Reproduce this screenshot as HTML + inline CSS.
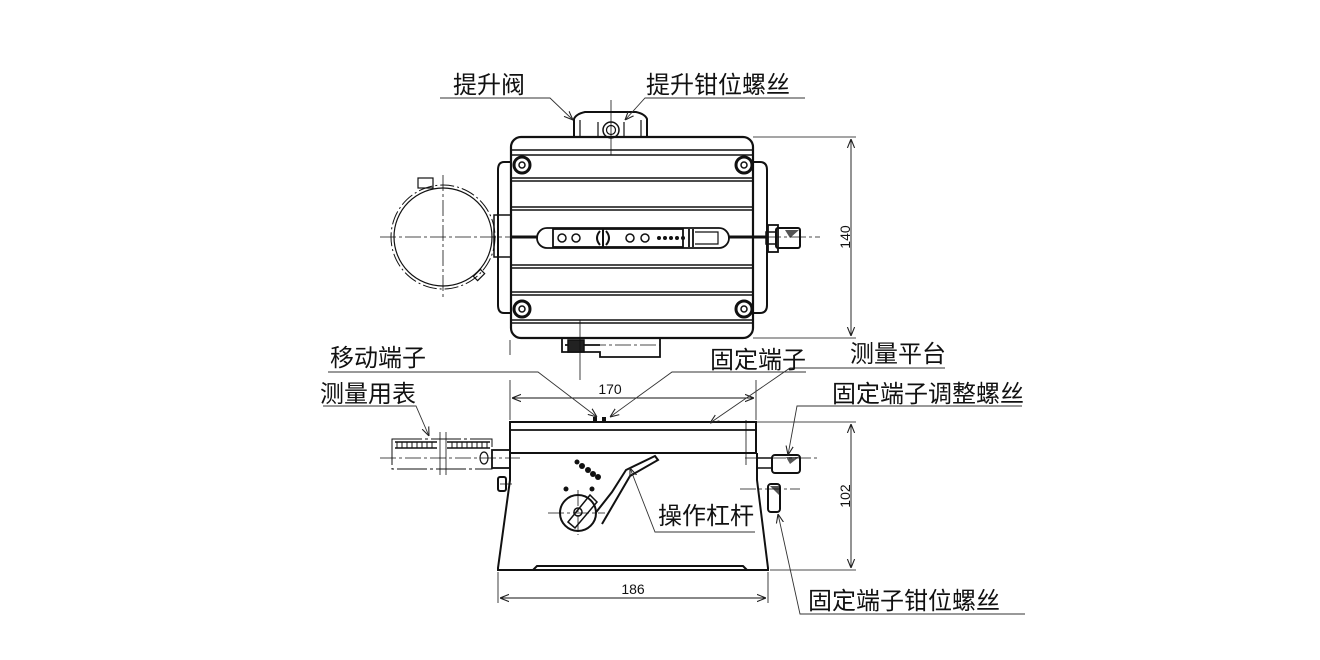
<!DOCTYPE html>
<html><head><meta charset="utf-8"><style>
html,body{margin:0;padding:0;background:#fff;}
svg{display:block;}
text{font-family:"Liberation Sans","Noto Sans CJK SC",sans-serif;fill:#111;}
.t{font-size:24px;}
.d{font-size:14px;}
</style></head><body>
<svg width="1320" height="660" viewBox="0 0 1320 660" xmlns="http://www.w3.org/2000/svg">
<defs>
<marker id="a" viewBox="0 0 10 10" refX="10" refY="5" markerWidth="9" markerHeight="9" orient="auto-start-reverse" markerUnits="userSpaceOnUse"><path d="M0,1 L10,5 L0,9" fill="none" stroke="#222" stroke-width="1.2"/></marker>
</defs>
<g fill="none" stroke="#111">
<path d="M574,137 V119 Q576,114 585,112 H636 Q645,114 647,119 V137" stroke-width="2"/>
<path d="M580,137 V120 M641,137 V120 M598,137 V122 M624,137 V122" stroke-width="1.2"/>
<circle cx="611" cy="130" r="8" stroke-width="1.5"/><circle cx="611" cy="130" r="4.5" stroke-width="1.2"/>
<path d="M511,162 H504 Q498,162 498,170 V305 Q498,313 504,313 H511" stroke-width="2"/>
<path d="M753,162 H760 Q767,162 767,170 V305 Q767,313 760,313 H753" stroke-width="2"/>
<rect x="494" y="215" width="17" height="42" stroke-width="1.5"/>
<rect x="511" y="137" width="242" height="201" rx="10" stroke-width="2.2"/>
<path d="M512,150 H752 M512,155 H752 M512,178 H752 M512,181 H752 M512,207 H752 M512,210 H752 M512,265 H752 M512,268 H752 M512,292 H752 M512,295 H752 M512,320 H752 M512,323 H752" stroke-width="1.5"/>
<g stroke-width="1.5">
<circle cx="522" cy="165" r="8" stroke-width="3"/><circle cx="522" cy="165" r="3"/>
<circle cx="744" cy="165" r="8" stroke-width="3"/><circle cx="744" cy="165" r="3"/>
<circle cx="522" cy="309" r="8" stroke-width="3"/><circle cx="522" cy="309" r="3"/>
<circle cx="744" cy="309" r="8" stroke-width="3"/><circle cx="744" cy="309" r="3"/>
</g>
<path d="M512,237 H538 M728,237 H766" stroke-width="3"/>
<rect x="537" y="228" width="192" height="20" rx="10" stroke-width="1.8"/>
<rect x="553" y="229" width="130" height="18" stroke-width="1.8"/>
<path d="M689,229 V247 M693,229 V247" stroke-width="1.8"/>
<circle cx="562" cy="238" r="4" stroke-width="1.5"/><circle cx="576" cy="238" r="4" stroke-width="1.5"/>
<circle cx="630" cy="238" r="4" stroke-width="1.5"/><circle cx="645" cy="238" r="4" stroke-width="1.5"/>
<path d="M600,231 Q594,238 600,245 M606,231 Q612,238 606,245 M603,229 V247" stroke-width="2"/>
<g fill="#111" stroke="none"><circle cx="659" cy="238" r="2"/><circle cx="665" cy="238" r="2"/><circle cx="671" cy="238" r="2"/><circle cx="677" cy="238" r="2"/><circle cx="683" cy="238" r="2"/></g>
<path d="M695,232 H718 V244 H695" stroke-width="1.2"/>
<rect x="766" y="232" width="10" height="12" stroke-width="1.5"/>
<rect x="768" y="225" width="10" height="27" stroke-width="1.8"/>
<rect x="776" y="228" width="24" height="20" rx="2" stroke-width="2"/>
<path d="M785,230 L799,230 L790,238 Z" fill="#555" stroke="none"/>
<circle cx="443" cy="237" r="52" stroke-width="1" stroke-dasharray="14 3 2 3"/>
<circle cx="443" cy="237" r="49" stroke-width="1.2"/>
<rect x="418" y="178" width="15" height="10" stroke-width="1.2"/>
<rect x="476" y="270" width="6" height="10" transform="rotate(45 479 275)" stroke-width="1.2"/>
<path d="M562,338 V352 H600 V357 H660 V338 M565,345 H600" stroke-width="1.8"/>
<rect x="568" y="340" width="16" height="12" stroke-width="1.5" fill="#222"/>
<g stroke-width="0.8" stroke-dasharray="16 3 3 3">
<path d="M380,237 H525 M740,237 H820"/>
<path d="M443,175 V300"/>
<path d="M590,345 H660"/>
</g>
<path d="M611,100 V155 M580,320 V380 M510,340 V355" stroke-width="0.8"/>
<path d="M753,137 H856 M753,338 H856" stroke-width="0.8"/>
<path d="M851,139 V336" stroke-width="0.9" marker-start="url(#a)" marker-end="url(#a)"/>

<rect x="510" y="422" width="246" height="31" stroke-width="2"/>
<path d="M511,430 H755" stroke-width="1.8"/>
<path d="M510,453 V480 L498,568 V570 H768 V568 L757,480 V453" stroke-width="2" fill="none"/>
<path d="M500,570 H533 L537,566 H743 L747,570" stroke-width="2"/>
<rect x="593" y="417" width="4" height="5" fill="#111" stroke="none"/><rect x="602" y="417" width="4" height="5" fill="#111" stroke="none"/>
<rect x="392" y="439" width="100" height="30" stroke-width="1" stroke-dasharray="30 3 3 3"/>
<path d="M395,442 H437 M447,442 H490 M395,448 H437 M447,448 H490" stroke-width="1.5"/>
<path d="M397,442 V448 M402,442 V448 M407,442 V448 M412,442 V448 M417,442 V448 M422,442 V448 M427,442 V448 M432,442 V448 M452,442 V448 M457,442 V448 M462,442 V448 M467,442 V448 M472,442 V448 M477,442 V448 M482,442 V448 M487,442 V448" stroke-width="1"/>
<ellipse cx="484" cy="458" rx="4" ry="6" stroke-width="1.2"/>
<rect x="492" y="450" width="18" height="18" stroke-width="1.8"/>
<rect x="498" y="477" width="8" height="14" rx="2" stroke-width="2"/>
<rect x="757" y="458" width="15" height="10" stroke-width="1.5"/>
<rect x="772" y="455" width="28" height="18" rx="3" stroke-width="2"/>
<path d="M786,457 L799,457 L790,464 Z" fill="#555" stroke="none"/>
<rect x="768" y="484" width="12" height="28" rx="3" stroke-width="2"/>
<path d="M770,486 L779,486 L779,495 Z" fill="#555" stroke="none"/>
<path d="M590,520 L612,492 L626,470 L655,456 L658,460 L630,476 L602,524" stroke-width="2" fill="#fff"/>
<circle cx="578" cy="513" r="18" stroke-width="2" fill="#fff"/>
<path d="M568,522 L590,495 L597,502 L575,528 Z" stroke-width="1.5"/>
<circle cx="578" cy="512" r="4" stroke-width="1.5"/>
<g fill="#111" stroke="none"><circle cx="577" cy="462" r="2.5"/><circle cx="582" cy="466" r="3"/><circle cx="588" cy="470" r="3"/><circle cx="593" cy="474" r="3"/><circle cx="598" cy="477" r="3"/><circle cx="566" cy="489" r="2.5"/><circle cx="592" cy="489" r="2.5"/></g>
<g stroke-width="0.8" stroke-dasharray="16 3 3 3">
<path d="M380,458 H520 M745,458 H820 M740,489 H800 M548,513 H605 M578,490 V535 M500,484 H512"/>
</g>
<path d="M440,432 V475 M446,432 V475 M746,420 V465" stroke-width="0.8"/>
<path d="M510,380 V420 M756,380 V420" stroke-width="0.8"/>
<path d="M512,398 H754" stroke-width="0.9" marker-start="url(#a)" marker-end="url(#a)"/>
<path d="M498,572 V603 M768,572 V603" stroke-width="0.8"/>
<path d="M500,598 H766" stroke-width="0.9" marker-start="url(#a)" marker-end="url(#a)"/>
<path d="M756,422 H856 M770,570 H856" stroke-width="0.8"/>
<path d="M851,424 V568" stroke-width="0.9" marker-start="url(#a)" marker-end="url(#a)"/>

<g stroke-width="0.9" stroke="#333">
<path d="M440,98 H550 L573,120" marker-end="url(#a)"/>
<path d="M805,98 H645 L625,120" marker-end="url(#a)"/>
<path d="M328,372 H538 L597,417" marker-end="url(#a)"/>
<path d="M806,372 H672 L610,417" marker-end="url(#a)"/>
<path d="M945,368 H790 L710,423" marker-end="url(#a)"/>
<path d="M1022,406 H797 L788,455" marker-end="url(#a)"/>
<path d="M323,406 H416 L429,436" marker-end="url(#a)"/>
<path d="M755,532 H655 L630,468" marker-end="url(#a)"/>
<path d="M1025,614 H800 L778,514" marker-end="url(#a)"/>
</g>
</g>
<text class="t" x="453" y="93">提升阀</text>
<text class="t" x="646" y="93">提升钳位螺丝</text>
<text class="t" x="330" y="366">移动端子</text>
<text class="t" x="710" y="368">固定端子</text>
<text class="t" x="850" y="362">测量平台</text>
<text class="t" x="832" y="402">固定端子调整螺丝</text>
<text class="t" x="320" y="402">测量用表</text>
<text class="t" x="658" y="524">操作杠杆</text>
<text class="t" x="808" y="609">固定端子钳位螺丝</text>
<text class="d" x="610" y="394" text-anchor="middle">170</text>
<text class="d" x="633" y="594" text-anchor="middle">186</text>
<text class="d" x="845" y="237" text-anchor="middle" transform="rotate(-90 845 237)" dy="5">140</text>
<text class="d" x="845" y="496" text-anchor="middle" transform="rotate(-90 845 496)" dy="5">102</text>
</svg>
</body></html>
